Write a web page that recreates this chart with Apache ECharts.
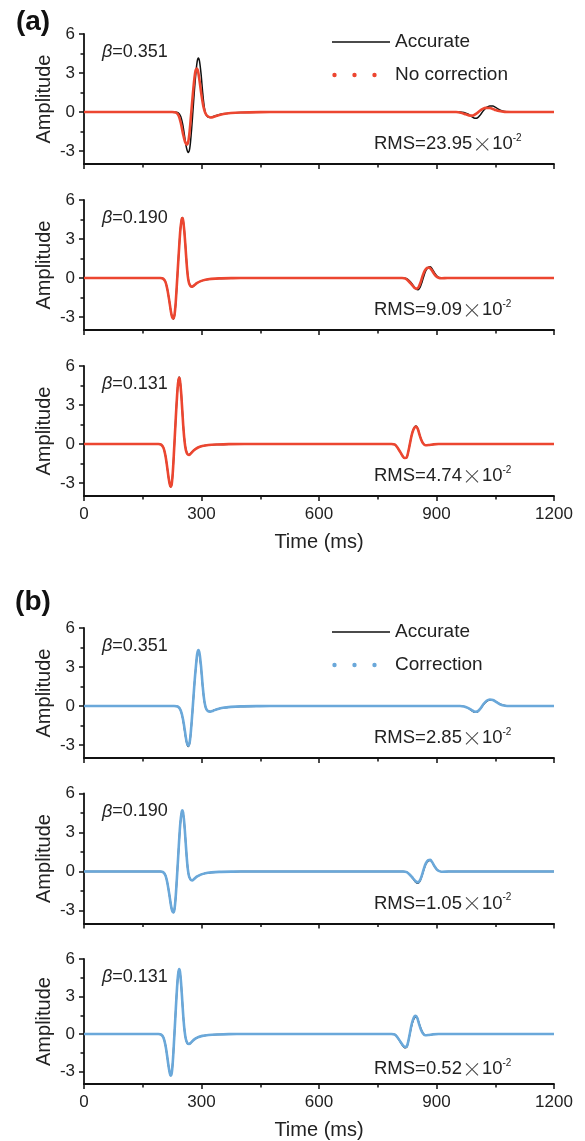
<!DOCTYPE html>
<html>
<head>
<meta charset="utf-8">
<script src="https://cdn.jsdelivr.net/npm/echarts@6/dist/echarts.min.js"></script>
<style>html,body{margin:0;padding:0;background:#fff}#c{width:585px;height:1141px}</style>
</head>
<body>
<div id="c"></div>
<script>
// ---------- data (time in ms, amplitude) ----------
const acc1 = [[0,0],[230,0],[240,-0.05],[247,-0.35],[253,-1.1],[258,-2.1],[262,-2.8],[266,-3.12],[270,-2.8],[274,-1.6],[278,0.0],[282,1.7],[286,3.1],[289,3.9],[292,4.15],[295,3.9],[299,2.9],[303,1.5],[307,0.4],[311,-0.15],[316,-0.37],[322,-0.42],[330,-0.35],[340,-0.25],[355,-0.14],[375,-0.07],[400,-0.03],[450,-0.01],[500,0],[960,0],[970,-0.03],[980,-0.15],[990,-0.35],[998,-0.48],[1004,-0.46],[1012,-0.22],[1020,0.12],[1028,0.36],[1036,0.47],[1044,0.46],[1053,0.32],[1063,0.14],[1074,0.04],[1090,0],[1200,0]];
const nc1  = [[0,0],[225,0],[235,-0.05],[242,-0.3],[248,-0.95],[253,-1.7],[258,-2.3],[262,-2.5],[266,-2.3],[270,-1.4],[274,0.0],[278,1.4],[282,2.6],[285,3.2],[288,3.35],[291,3.15],[295,2.4],[300,1.3],[305,0.4],[310,-0.1],[316,-0.33],[324,-0.42],[332,-0.36],[342,-0.26],[356,-0.15],[375,-0.08],[400,-0.04],[450,-0.01],[500,0],[950,0],[962,-0.05],[975,-0.18],[986,-0.28],[994,-0.26],[1002,-0.12],[1010,0.08],[1018,0.24],[1026,0.32],[1036,0.3],[1048,0.18],[1060,0.07],[1074,0.01],[1090,0],[1200,0]];
const acc2 = [[0,0],[195,0],[202,-0.05],[208,-0.3],[213,-0.9],[218,-1.8],[222,-2.6],[225,-3.0],[228,-3.15],[231,-2.9],[234,-2.0],[237,-0.6],[240,0.9],[243,2.4],[246,3.7],[249,4.45],[251,4.65],[253,4.5],[256,3.7],[259,2.5],[262,1.2],[265,0.2],[268,-0.35],[272,-0.62],[276,-0.68],[281,-0.58],[288,-0.4],[298,-0.24],[310,-0.13],[325,-0.07],[345,-0.03],[380,-0.01],[420,0],[815,0],[824,-0.05],[832,-0.25],[840,-0.55],[847,-0.82],[853,-0.9],[858,-0.72],[863,-0.32],[868,0.18],[873,0.58],[879,0.82],[884,0.86],[889,0.7],[895,0.4],[901,0.15],[907,0.03],[915,-0.02],[930,0],[1200,0]];
const nc2  = [[0,0],[195,0],[202,-0.05],[208,-0.3],[213,-0.9],[218,-1.8],[222,-2.6],[225,-3.0],[228,-3.12],[231,-2.85],[234,-1.95],[237,-0.55],[240,0.95],[243,2.4],[246,3.7],[249,4.45],[251,4.62],[253,4.45],[256,3.65],[259,2.45],[262,1.15],[265,0.15],[268,-0.38],[272,-0.63],[276,-0.67],[281,-0.57],[288,-0.4],[298,-0.24],[310,-0.13],[325,-0.07],[345,-0.03],[380,-0.01],[420,0],[812,0],[821,-0.05],[829,-0.25],[837,-0.52],[844,-0.76],[850,-0.82],[855,-0.66],[860,-0.28],[865,0.2],[870,0.56],[876,0.78],[881,0.8],[887,0.64],[893,0.36],[899,0.13],[905,0.02],[913,-0.02],[928,0],[1200,0]];
const acc3 = [[0,0],[190,0],[197,-0.05],[203,-0.3],[208,-0.9],[212,-1.7],[216,-2.6],[219,-3.1],[221,-3.3],[224,-3.1],[227,-2.1],[230,-0.5],[233,1.2],[236,2.9],[239,4.3],[241,4.9],[243,5.15],[245,4.95],[248,4.0],[251,2.6],[254,1.2],[257,0.2],[260,-0.4],[264,-0.75],[268,-0.82],[273,-0.7],[280,-0.48],[290,-0.28],[302,-0.15],[318,-0.08],[340,-0.04],[370,-0.01],[410,0],[785,0],[794,-0.05],[801,-0.3],[808,-0.65],[814,-0.95],[819,-1.1],[824,-1.05],[828,-0.6],[832,0.0],[836,0.6],[840,1.05],[844,1.3],[848,1.38],[852,1.2],[856,0.8],[861,0.35],[866,0.05],[872,-0.1],[880,-0.08],[892,-0.03],[905,0],[1200,0]];
const nc3  = [[0,0],[190,0],[197,-0.05],[203,-0.3],[208,-0.9],[212,-1.7],[216,-2.6],[219,-3.1],[221,-3.28],[224,-3.08],[227,-2.05],[230,-0.45],[233,1.25],[236,2.9],[239,4.3],[241,4.88],[243,5.1],[245,4.9],[248,3.95],[251,2.55],[254,1.15],[257,0.15],[260,-0.45],[264,-0.78],[268,-0.84],[273,-0.72],[280,-0.5],[290,-0.29],[302,-0.16],[318,-0.08],[340,-0.04],[370,-0.01],[410,0],[785,0],[794,-0.05],[801,-0.3],[808,-0.65],[814,-0.95],[819,-1.08],[824,-1.02],[828,-0.58],[832,0.0],[836,0.6],[840,1.02],[844,1.27],[848,1.35],[852,1.18],[856,0.78],[861,0.33],[866,0.04],[872,-0.1],[880,-0.08],[892,-0.03],[905,0],[1200,0]];
const cor1 = [[0,0],[230,0],[240,-0.05],[247,-0.35],[253,-1.05],[258,-2.0],[262,-2.75],[266,-3.05],[270,-2.75],[274,-1.55],[278,0.05],[282,1.75],[286,3.15],[289,4.0],[292,4.3],[295,4.05],[299,3.0],[303,1.55],[307,0.45],[311,-0.15],[316,-0.38],[322,-0.44],[330,-0.36],[340,-0.25],[355,-0.14],[375,-0.07],[400,-0.03],[450,-0.01],[500,0],[960,0],[970,-0.03],[980,-0.15],[990,-0.32],[998,-0.44],[1004,-0.42],[1012,-0.2],[1020,0.15],[1028,0.4],[1036,0.5],[1044,0.46],[1053,0.3],[1063,0.12],[1075,0.02],[1090,0],[1200,0]];
const cor2 = [[0,0],[195,0],[202,-0.05],[208,-0.3],[213,-0.9],[218,-1.8],[222,-2.6],[225,-3.0],[228,-3.15],[231,-2.9],[234,-2.0],[237,-0.6],[240,0.9],[243,2.45],[246,3.75],[249,4.5],[251,4.7],[253,4.55],[256,3.75],[259,2.5],[262,1.2],[265,0.2],[268,-0.35],[272,-0.62],[276,-0.68],[281,-0.58],[288,-0.4],[298,-0.24],[310,-0.13],[325,-0.07],[345,-0.03],[380,-0.01],[420,0],[815,0],[824,-0.05],[832,-0.25],[840,-0.52],[847,-0.76],[853,-0.84],[858,-0.66],[863,-0.26],[868,0.24],[873,0.64],[879,0.88],[884,0.9],[889,0.72],[895,0.4],[901,0.15],[907,0.03],[915,-0.02],[930,0],[1200,0]];
const cor3 = [[0,0],[190,0],[197,-0.05],[203,-0.3],[208,-0.9],[212,-1.7],[216,-2.6],[219,-3.12],[221,-3.33],[224,-3.12],[227,-2.1],[230,-0.5],[233,1.2],[236,2.9],[239,4.35],[241,4.95],[243,5.2],[245,5.0],[248,4.02],[251,2.6],[254,1.2],[257,0.2],[260,-0.4],[264,-0.74],[268,-0.8],[273,-0.69],[280,-0.47],[290,-0.27],[302,-0.15],[318,-0.08],[340,-0.04],[370,-0.01],[410,0],[785,0],[794,-0.05],[801,-0.3],[808,-0.62],[814,-0.9],[819,-1.03],[824,-1.0],[828,-0.58],[832,0.05],[836,0.7],[840,1.15],[844,1.42],[847,1.46],[851,1.28],[855,0.85],[860,0.38],[865,0.06],[871,-0.1],[879,-0.08],[891,-0.03],[905,0],[1200,0]];

const accurate = [acc1, acc2, acc3, acc1, acc2, acc3];
const estimate = [nc1, nc2, nc3, cor1, cor2, cor3];
const betas = ['0.351', '0.190', '0.131', '0.351', '0.190', '0.131'];
const rmsVals = ['23.95', '9.09', '4.74', '2.85', '1.05', '0.52'];
const yTickVals = [-3, 0, 3, 6];
const yMinorVals = [-1.5, 1.5, 4.5];
const seriesNames = ['Accurate', 'No correction', 'Correction'];
const panelTags = ['(a)', '(b)'];

// ---------- layout ----------
const FONT = '"Liberation Sans", Arial, Helvetica, sans-serif';
const RED = '#ec4630', BLUE = '#6aa8da', BLACK = '#111';
const tops = [34, 200, 366, 628, 793.5, 959];
const H = 130, L = 84, W = 470;

const grids = [], xAxes = [], yAxes = [], series = [], graphics = [];
tops.forEach((t, i) => {
  grids.push({left: L, top: t, width: W, height: H});
  const last = (i === 2 || i === 5);
  xAxes.push({
    type: 'value', gridIndex: i, min: 0, max: 1200, interval: 300,
    axisLine: {show: true, onZero: false, lineStyle: {color: BLACK, width: 1.8}},
    axisTick: {show: true, inside: false, length: 5, lineStyle: {color: BLACK, width: 1.5}},
    minorTick: {show: true, splitNumber: 2, length: 3.5, lineStyle: {color: BLACK, width: 1.5}},
    splitLine: {show: false}, minorSplitLine: {show: false},
    axisLabel: {show: last, fontFamily: FONT, fontSize: 17, color: '#222', margin: 10,
      formatter: v => String(v)},
    name: last ? 'Time (ms)' : '', nameLocation: 'middle', nameGap: 36, nameMoveOverlap: false,
    nameTextStyle: {fontFamily: FONT, fontSize: 20, color: '#222'}
  });
  yAxes.push({
    type: 'value', gridIndex: i, min: -4, max: 6, position: 'left',
    axisLine: {show: true, onZero: false, lineStyle: {color: BLACK, width: 1.8}},
    axisTick: {show: true, inside: false, length: 5, customValues: yTickVals, lineStyle: {color: BLACK, width: 1.5}},
    axisLabel: {fontFamily: FONT, fontSize: 17, color: '#222', margin: 9, customValues: yTickVals},
    splitLine: {show: false},
    name: 'Amplitude', nameLocation: 'middle', nameGap: 30, nameMoveOverlap: false,
    nameTextStyle: {fontFamily: FONT, fontSize: 20, color: '#222'}
  });
  yAxes.push({
    type: 'value', gridIndex: i, min: -4, max: 6, position: 'left', offset: 0,
    axisLine: {show: false, onZero: false},
    axisTick: {show: true, inside: false, length: 3.5, customValues: yMinorVals, lineStyle: {color: BLACK, width: 1.5}},
    axisLabel: {show: false}, splitLine: {show: false}
  });
  const isB = i >= 3;
  series.push({
    name: seriesNames[0], type: 'line', xAxisIndex: i, yAxisIndex: 2 * i,
    data: accurate[i], symbol: 'none', smooth: 0.3, z: 2,
    lineStyle: {color: BLACK, width: 1.5}, itemStyle: {color: BLACK}
  });
  series.push({
    name: isB ? seriesNames[2] : seriesNames[1], type: 'line', xAxisIndex: i, yAxisIndex: 2 * i,
    data: estimate[i], symbol: 'none', smooth: 0.3, z: 3,
    lineStyle: {color: isB ? BLUE : RED, width: 2.6}, itemStyle: {color: isB ? BLUE : RED}
  });
  graphics.push({
    type: 'text', x: 102, y: t + 18,
    style: {
      text: '{i|β}=' + betas[i], font: '18px ' + FONT, fill: '#222', verticalAlign: 'middle',
      rich: {i: {fontStyle: 'italic', fontSize: 18, fontFamily: FONT, fill: '#222'}}
    }
  });
  graphics.push({
    type: 'text', x: 374, y: t + 110,
    style: {
      text: '{n|RMS=' + rmsVals[i] + '}{x|×}{n|10}{s|-2}', verticalAlign: 'middle', fill: '#222',
      rich: {
        n: {fontSize: 18.5, fontFamily: FONT, fill: '#222', lineHeight: 22},
        x: {fontSize: 20, fontFamily: '"Noto Sans CJK SC", sans-serif', fontWeight: 300, fill: '#444', lineHeight: 22, padding: [0, 0, 0, 0]},
        s: {fontSize: 10, fontFamily: FONT, fill: '#222', verticalAlign: 'top', lineHeight: 22}
      }
    }
  });
});
graphics.push({type: 'text', x: 33, y: 22, style: {text: panelTags[0], font: 'bold 28px ' + FONT, fill: '#111', align: 'center', verticalAlign: 'middle'}});
graphics.push({type: 'text', x: 33, y: 602, style: {text: panelTags[1], font: 'bold 28px ' + FONT, fill: '#111', align: 'center', verticalAlign: 'middle'}});

const lineIcon = 'path://M0,0L0.01,0L0,0.01Z M58,14L57.99,14L58,13.99Z M0,6.2L58,6.2L58,7.8L0,7.8Z';
const dotIcon = 'path://M0,0L0.01,0L0,0.01Z M58,14L57.99,14L58,13.99Z M0.3,7a2.2,2.2 0 1,0 4.4,0a2.2,2.2 0 1,0 -4.4,0Z M20.3,7a2.2,2.2 0 1,0 4.4,0a2.2,2.2 0 1,0 -4.4,0Z M40.3,7a2.2,2.2 0 1,0 4.4,0a2.2,2.2 0 1,0 -4.4,0Z';
function mkLegend(top, name2) {
  return {
    orient: 'vertical', left: 332, top: top, padding: 0, itemWidth: 58, itemHeight: 14, itemGap: 13,
    selectedMode: false,
    textStyle: {fontFamily: FONT, fontSize: 19, color: '#222', lineHeight: 20},
    data: [{name: seriesNames[0], icon: lineIcon}, {name: name2, icon: dotIcon}]
  };
}

const chart = echarts.init(document.getElementById('c'), null, {renderer: 'canvas'});
chart.setOption({
  animation: false,
  backgroundColor: '#fff',
  grid: grids, xAxis: xAxes, yAxis: yAxes, series: series,
  legend: [mkLegend(32, seriesNames[1]), mkLegend(622, seriesNames[2])],
  graphic: graphics
});
</script>
</body>
</html>
